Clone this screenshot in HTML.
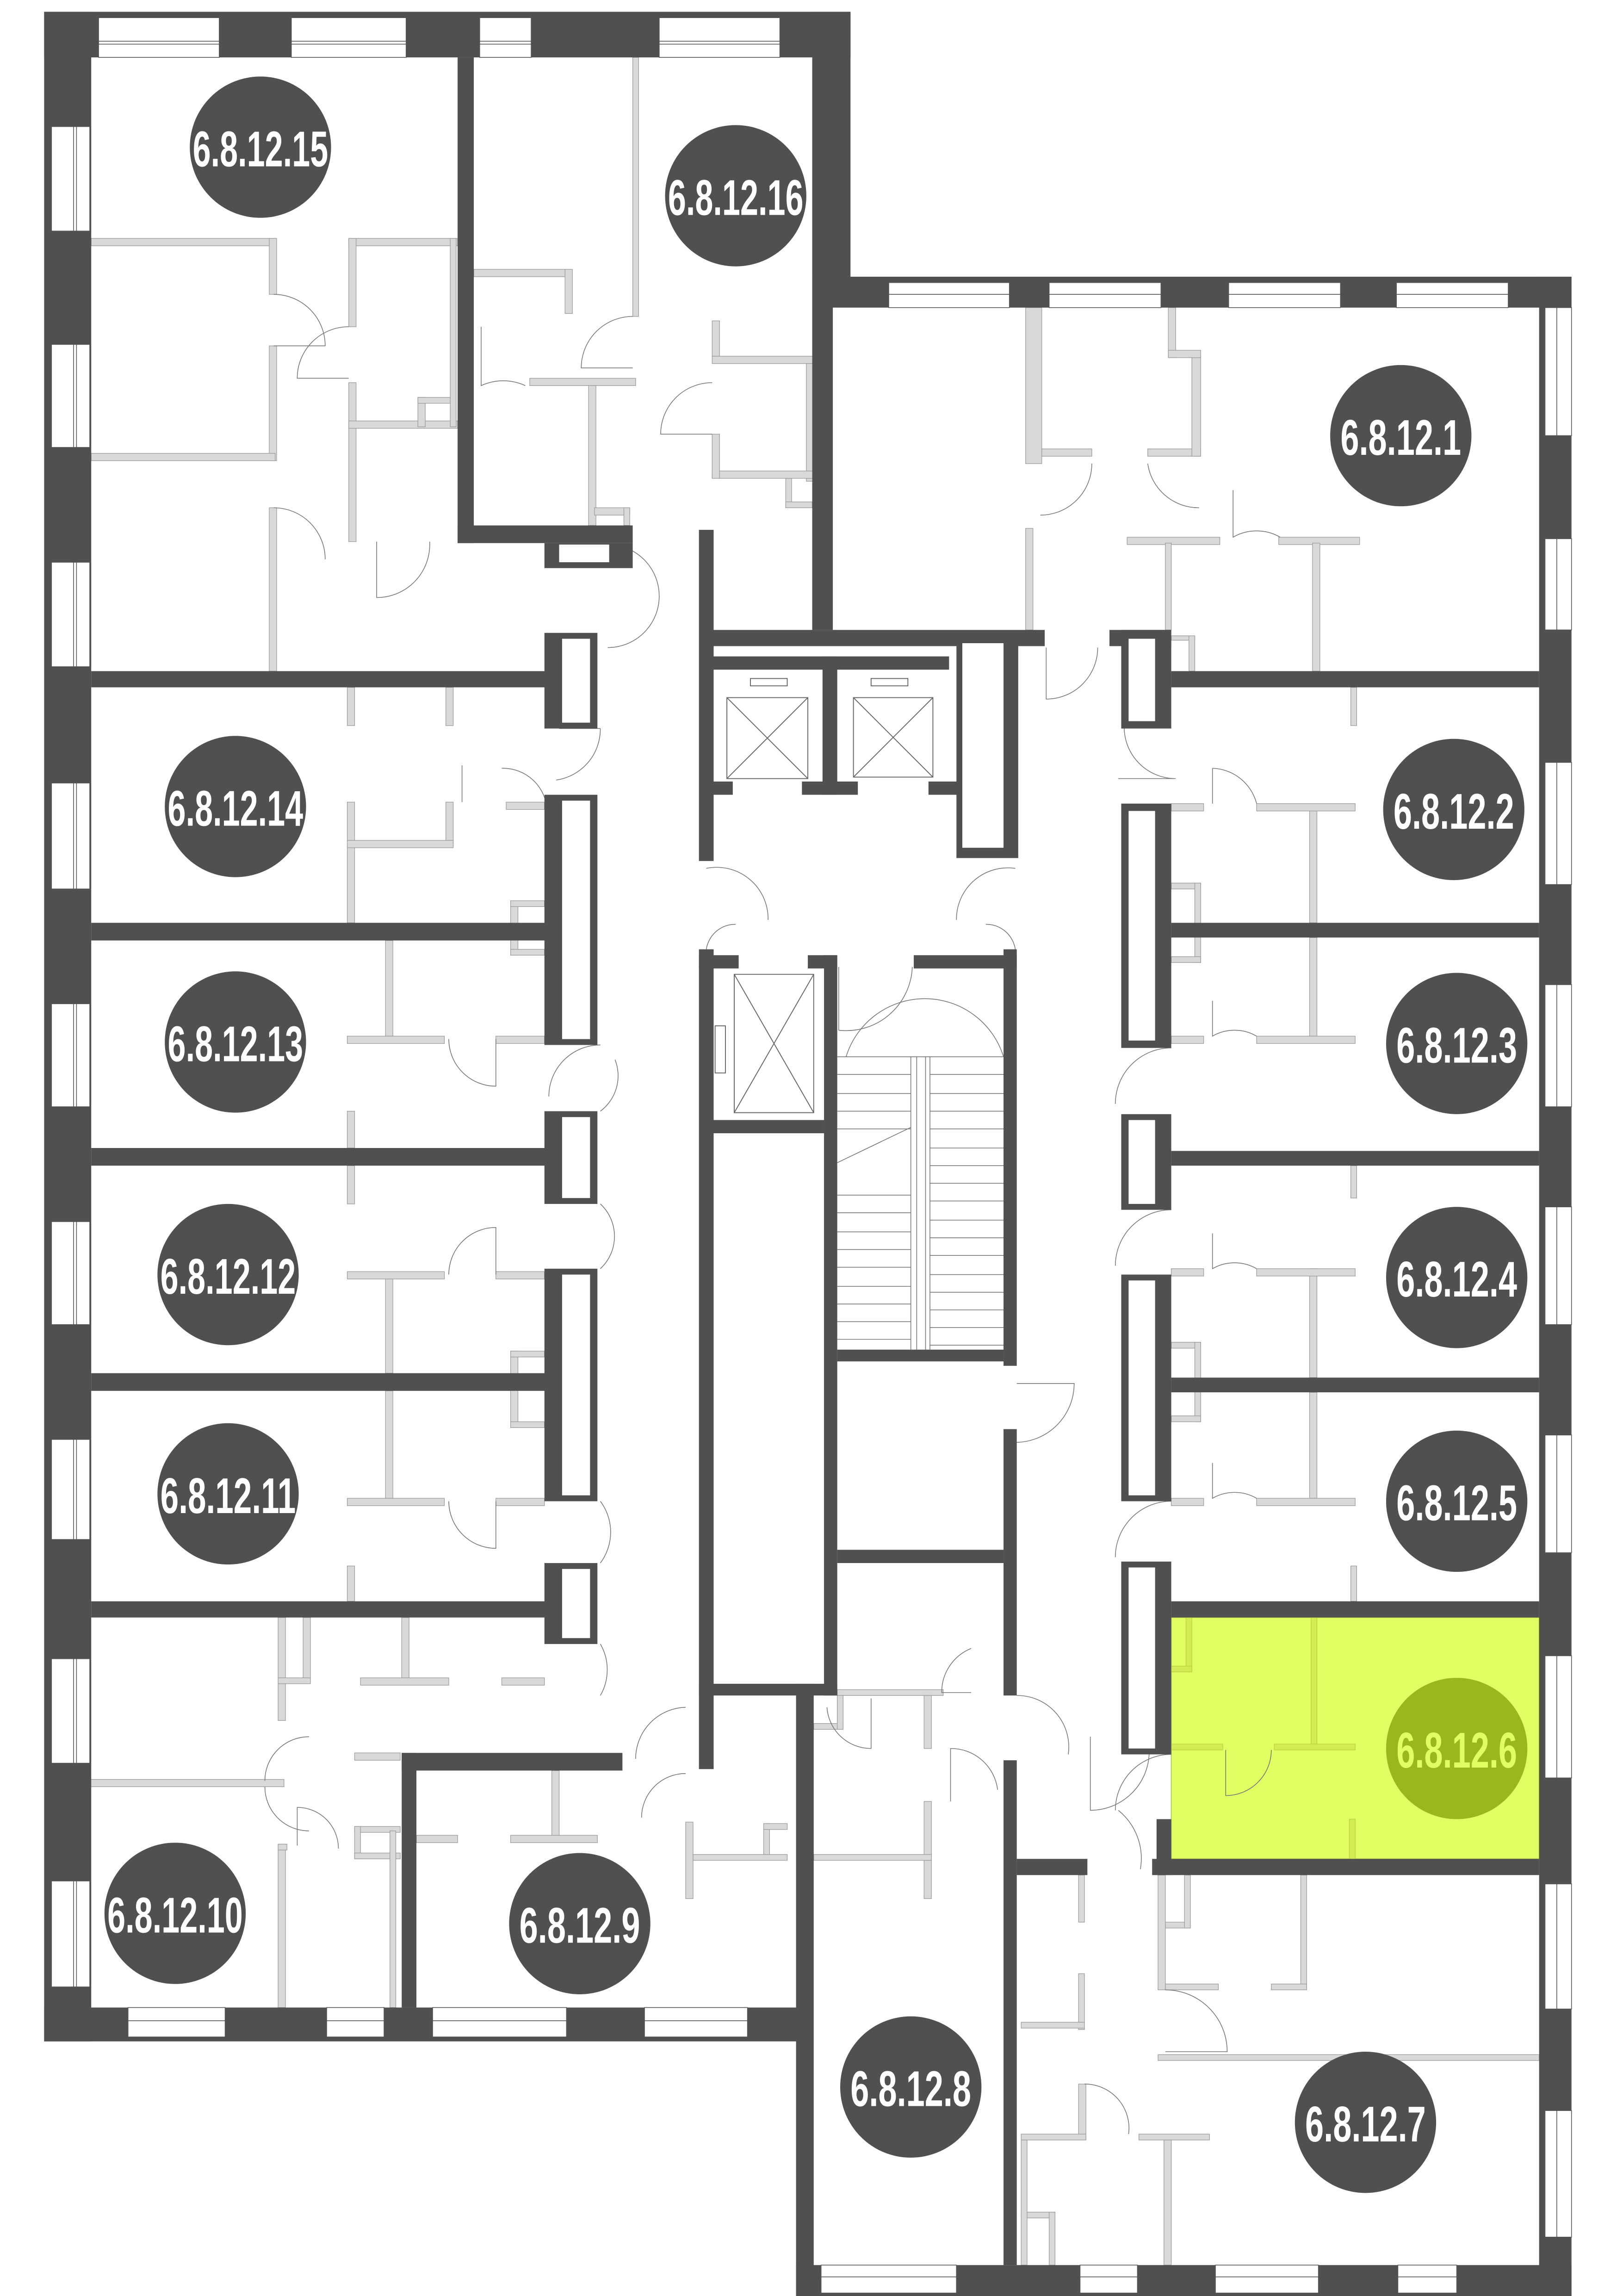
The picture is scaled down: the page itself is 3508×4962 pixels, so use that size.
<!DOCTYPE html>
<html><head><meta charset="utf-8"><style>
html,body{margin:0;padding:0;background:#fff;}
svg{display:block;}
.w{fill:#505050;}
.l{fill:#d9d9d9;stroke:#9a9a9a;stroke-width:0.4;}
.g{fill:#d2ec55;stroke:#b8d040;stroke-width:0.4;}
.win{fill:#fff;stroke:#555;stroke-width:0.5;}
.d{fill:none;stroke:#777;stroke-width:0.5;}
.t{font-family:"Liberation Sans Narrow","Liberation Sans",sans-serif;font-size:34px;font-weight:bold;fill:#fff;}
</style></head><body>
<svg width="3508" height="4962" viewBox="0 0 1103 1560" preserveAspectRatio="none" xmlns="http://www.w3.org/2000/svg">
<rect width="1103" height="1560" fill="#fff"/>
<rect x="796" y="1099" width="250" height="164" fill="#e1ff62" stroke="#b8d040" stroke-width="0.6"/>
<g class="l">
<rect x="62" y="162" width="125" height="5"/><rect x="183" y="162" width="5" height="38"/><rect x="183" y="235" width="5" height="78"/>
<rect x="62" y="308" width="125" height="5"/><rect x="183" y="345" width="5" height="111"/>
<rect x="237" y="162" width="74" height="5"/><rect x="237" y="162" width="5" height="60"/><rect x="237" y="260" width="5" height="108"/>
<rect x="237" y="286" width="74" height="5"/><rect x="284" y="270" width="5" height="20"/><rect x="284" y="270" width="24" height="4"/><rect x="306" y="162" width="4" height="128"/>
<rect x="322" y="183" width="66" height="5"/><rect x="384" y="183" width="5" height="30"/><rect x="430" y="39" width="4" height="176"/>
<rect x="360" y="257" width="72" height="5"/><rect x="400" y="262" width="5" height="95"/><rect x="404" y="345" width="24" height="5"/><rect x="424" y="345" width="4" height="12"/>
<rect x="484" y="218" width="5" height="24"/><rect x="484" y="242" width="70" height="5"/><rect x="548" y="247" width="5" height="80"/><rect x="484" y="320" width="70" height="5"/><rect x="484" y="295" width="5" height="30"/>
<rect x="534" y="325" width="4" height="20"/><rect x="534" y="341" width="18" height="4"/>
<rect x="480" y="365" width="4" height="45"/>
<rect x="236" y="467" width="5" height="26"/><rect x="303" y="467" width="5" height="26"/>
<rect x="236" y="545" width="5" height="82"/><rect x="303" y="545" width="5" height="30"/><rect x="236" y="571" width="72" height="5"/>
<rect x="344" y="545" width="26" height="5"/><rect x="347" y="612" width="5" height="37"/><rect x="347" y="612" width="23" height="4"/><rect x="347" y="645" width="23" height="4"/>
<rect x="262" y="639" width="5" height="65"/><rect x="236" y="704" width="66" height="5"/><rect x="337" y="704" width="33" height="5"/>
<rect x="236" y="755" width="5" height="25"/><rect x="236" y="792" width="5" height="26"/>
<rect x="236" y="864" width="66" height="5"/><rect x="337" y="864" width="33" height="5"/><rect x="262" y="869" width="5" height="64"/>
<rect x="347" y="918" width="5" height="52"/><rect x="347" y="918" width="23" height="4"/><rect x="347" y="966" width="23" height="4"/>
<rect x="262" y="945" width="5" height="73"/><rect x="236" y="1018" width="66" height="5"/><rect x="337" y="1018" width="33" height="5"/>
<rect x="236" y="1064" width="5" height="24"/>
<rect x="189" y="1099" width="5" height="70"/><rect x="206" y="1099" width="5" height="42"/><rect x="189" y="1140" width="22" height="4"/>
<rect x="273" y="1099" width="5" height="41"/><rect x="245" y="1140" width="60" height="5"/><rect x="341" y="1140" width="29" height="5"/>
<rect x="61" y="1209" width="132" height="5"/><rect x="189" y="1253" width="5" height="111"/><rect x="189" y="1253" width="6" height="4"/>
<rect x="241" y="1191" width="31" height="5"/><rect x="241" y="1241" width="31" height="4"/><rect x="241" y="1241" width="4" height="22"/><rect x="241" y="1259" width="31" height="4"/><rect x="265" y="1244" width="4" height="120"/>
<rect x="283" y="1247" width="28" height="5"/><rect x="347" y="1247" width="59" height="5"/><rect x="375" y="1203" width="5" height="44"/>
<rect x="466" y="1238" width="5" height="52"/><rect x="471" y="1260" width="64" height="4"/><rect x="519" y="1239" width="4" height="21"/><rect x="519" y="1239" width="16" height="4"/>
<rect x="569" y="1148" width="72" height="4"/><rect x="628" y="1152" width="5" height="36"/><rect x="628" y="1224" width="5" height="66"/><rect x="553" y="1260" width="80" height="4"/>
<rect x="553" y="1171" width="20" height="4"/><rect x="569" y="1152" width="4" height="23"/>
<rect x="733" y="1274" width="4" height="32"/><rect x="733" y="1341" width="4" height="38"/><rect x="694" y="1374" width="43" height="4"/>
<rect x="733" y="1416" width="5" height="38"/><rect x="694" y="1450" width="44" height="4"/><rect x="774" y="1450" width="48" height="4"/><rect x="791" y="1454" width="5" height="85"/>
<rect x="694" y="1503" width="23" height="4"/><rect x="713" y="1503" width="4" height="36"/><rect x="694" y="1454" width="4" height="85"/>
<rect x="787" y="1274" width="5" height="78"/><rect x="792" y="1348" width="36" height="4"/><rect x="792" y="1306" width="17" height="4"/><rect x="805" y="1274" width="4" height="36"/>
<rect x="884" y="1274" width="4" height="78"/><rect x="864" y="1348" width="24" height="4"/><rect x="787" y="1396" width="259" height="4"/>
<rect x="697" y="209" width="11" height="106"/><rect x="697" y="359" width="5" height="69"/><rect x="708" y="305" width="34" height="5"/><rect x="780" y="305" width="36" height="5"/><rect x="810" y="241" width="6" height="69"/>
<rect x="794" y="209" width="5" height="34"/><rect x="794" y="238" width="22" height="5"/>
<rect x="766" y="365" width="63" height="5"/><rect x="869" y="365" width="55" height="5"/><rect x="792" y="369" width="4" height="59"/><rect x="892" y="369" width="5" height="87"/>
<rect x="796" y="432" width="16" height="3"/><rect x="808" y="432" width="4" height="24"/>
<rect x="918" y="467" width="4" height="26"/>
<rect x="796" y="546" width="22" height="5"/><rect x="854" y="546" width="67" height="5"/><rect x="890" y="551" width="5" height="76"/>
<rect x="796" y="600" width="20" height="4"/><rect x="812" y="600" width="4" height="54"/><rect x="796" y="650" width="20" height="4"/>
<rect x="890" y="637" width="5" height="67"/><rect x="796" y="704" width="22" height="5"/><rect x="854" y="704" width="67" height="5"/>
<rect x="918" y="792" width="4" height="22"/><rect x="890" y="862" width="5" height="74"/><rect x="796" y="862" width="22" height="5"/><rect x="854" y="862" width="67" height="5"/>
<rect x="796" y="912" width="20" height="4"/><rect x="812" y="912" width="4" height="54"/><rect x="796" y="962" width="20" height="4"/>
<rect x="890" y="946" width="5" height="72"/><rect x="796" y="1018" width="22" height="5"/><rect x="854" y="1018" width="67" height="5"/>
<rect x="918" y="1064" width="4" height="24"/>
</g>
<g class="g">
<rect x="891" y="1099" width="4" height="86"/><rect x="796" y="1185" width="35" height="4"/><rect x="866" y="1185" width="55" height="4"/>
<rect x="917" y="1236" width="4" height="27"/><rect x="806" y="1099" width="4" height="36"/><rect x="796" y="1132" width="14" height="4"/>
</g>
<g class="d">
<path d="M833 1189 V1220 A31 31 0 0 0 864 1189"/>
<path d="M186 200 A35 35 0 0 1 221 235 H186"/>
<path d="M237 222 A35 35 0 0 0 202 257 H237"/>
<path d="M186 345 A35 35 0 0 1 221 380"/>
<path d="M256 368 V406 A36 36 0 0 0 292 368"/>
<path d="M327 222 V262 A36 36 0 0 1 357 262"/>
<path d="M430 215 A35 35 0 0 0 395 250 H430"/>
<path d="M484 260 A35 35 0 0 0 449 295 H484"/>
<path d="M413 370 A35 35 0 0 1 413 440"/>
<path d="M711 440 V475 A35 35 0 0 0 746 440"/>
<path d="M742 315 A35 35 0 0 1 707 350"/>
<path d="M780 315 A35 35 0 0 0 815 345"/>
<path d="M838 333 V365 A32 32 0 0 1 870 365"/>
<path d="M408 495 H380 M408 495 A35 35 0 0 1 378 530"/>
<path d="M341 522 A30 30 0 0 1 371 545 M314 520 V545"/>
<path d="M408 710 A35 35 0 0 0 373 745 M418 720 A30 30 0 0 1 408 755"/>
<path d="M305 706 A32 32 0 0 0 337 738 V706"/>
<path d="M408 818 A30 30 0 0 1 408 862"/>
<path d="M305 866 A32 32 0 0 1 337 834 V866"/>
<path d="M408 1020 A35 35 0 0 1 408 1062"/>
<path d="M305 1020 A32 32 0 0 0 337 1052 V1020"/>
<path d="M408 1117 A35 35 0 0 1 408 1152"/>
<path d="M210 1180 A30 30 0 0 0 180 1210 M180 1214 A30 30 0 0 0 210 1244"/>
<path d="M202 1254 V1228 A28 28 0 0 1 230 1256"/>
<path d="M466 1160 A35 35 0 0 0 432 1195"/>
<path d="M466 1205 A30 30 0 0 0 436 1235"/>
<path d="M480 590 A35 35 0 0 1 522 625 M480 645 A20 20 0 0 1 500 628"/>
<path d="M690 590 A35 35 0 0 0 650 625 M690 645 A20 20 0 0 0 670 628"/>
<path d="M764 494 A35 35 0 0 0 799 529 H760"/>
<path d="M824 522 V546 M824 522 A32 32 0 0 1 854 546"/>
<path d="M796 712 A38 38 0 0 0 758 750"/>
<path d="M796 822 A38 38 0 0 0 758 860"/>
<path d="M796 1020 A38 38 0 0 0 758 1058"/>
<path d="M824 680 V704 A30 30 0 0 1 854 704"/>
<path d="M824 838 V862 A30 30 0 0 1 854 862"/>
<path d="M824 994 V1018 A30 30 0 0 1 854 1018"/>
<path d="M796 1192 A38 38 0 0 0 758 1230"/>
<path d="M760 1230 A42 42 0 0 1 775 1270"/>
<path d="M691 940 H730 A40 40 0 0 1 691 980"/>
<path d="M691 1152 A35 35 0 0 1 726 1192"/>
<path d="M660 1120 A32 32 0 0 0 640 1150 H660"/>
<path d="M592 1154 V1188 A30 30 0 0 1 562 1160"/>
<path d="M646 1224 V1188 A32 32 0 0 1 678 1216"/>
<path d="M741 1180 V1230 A40 40 0 0 0 781 1190"/>
<path d="M792 1352 A42 42 0 0 1 834 1394 H792"/>
<path d="M737 1416 A30 30 0 0 1 767 1450"/>
<path d="M575 718 A56 56 0 0 1 682 718"/>
<path d="M570 700 V657 M570 700 A45 45 0 0 0 620 657"/>
</g>
<g class="w">
<rect x="30" y="8" width="32" height="1379"/>
<rect x="30" y="8" width="548" height="31"/>
<rect x="552" y="8" width="26" height="180"/>
<rect x="552" y="188" width="14" height="240"/>
<rect x="552" y="188" width="516" height="21"/>
<rect x="1046" y="188" width="22" height="1373"/>
<rect x="30" y="1364" width="515" height="23"/>
<rect x="541" y="1144" width="12" height="417"/>
<rect x="475" y="1144" width="94" height="8"/>
<rect x="541" y="1539" width="527" height="22"/>
<rect x="311" y="39" width="11" height="330"/>
<rect x="311" y="357" width="119" height="12"/>
<rect x="370" y="369" width="60" height="17"/>
<rect x="62" y="456" width="317" height="11"/>
<rect x="62" y="627" width="317" height="12"/>
<rect x="62" y="780" width="317" height="12"/>
<rect x="62" y="933" width="317" height="12"/>
<rect x="62" y="1088" width="317" height="11"/>
<rect x="273" y="1191" width="150" height="12"/>
<rect x="273" y="1191" width="10" height="173"/>
<rect x="370" y="430" width="36" height="65"/>
<rect x="370" y="540" width="36" height="170"/>
<rect x="370" y="755" width="36" height="63"/>
<rect x="370" y="862" width="36" height="158"/>
<rect x="370" y="1062" width="36" height="55"/>
<rect x="754" y="428" width="42" height="11"/>
<rect x="762" y="428" width="34" height="67"/>
<rect x="762" y="546" width="34" height="166"/>
<rect x="762" y="757" width="34" height="65"/>
<rect x="762" y="866" width="34" height="154"/>
<rect x="762" y="1061" width="34" height="131"/>
<rect x="786" y="1236" width="10" height="38"/>
<rect x="796" y="456" width="250" height="11"/>
<rect x="796" y="627" width="250" height="10"/>
<rect x="796" y="782" width="250" height="10"/>
<rect x="796" y="936" width="250" height="10"/>
<rect x="796" y="1088" width="250" height="11"/>
<rect x="783" y="1263" width="263" height="11"/>
<rect x="691" y="1263" width="48" height="11"/>
<rect x="475" y="360" width="10" height="225"/>
<rect x="484" y="428" width="226" height="11"/>
<rect x="484" y="446" width="161" height="9"/>
<rect x="559" y="446" width="10" height="94"/>
<rect x="484" y="531" width="14" height="9"/>
<rect x="545" y="531" width="38" height="9"/>
<rect x="631" y="531" width="23" height="9"/>
<rect x="650" y="437" width="42" height="146"/>
<rect x="475" y="645" width="10" height="557"/>
<rect x="475" y="649" width="27" height="9"/>
<rect x="549" y="649" width="20" height="9"/>
<rect x="621" y="649" width="70" height="9"/>
<rect x="682" y="645" width="9" height="283"/>
<rect x="560" y="649" width="9" height="503"/>
<rect x="483" y="761" width="77" height="9"/>
<rect x="569" y="917" width="113" height="8"/>
<rect x="682" y="971" width="9" height="181"/>
<rect x="569" y="1053" width="113" height="9"/>
<rect x="682" y="1196" width="9" height="343"/>
</g>
<g fill="#fff">
<rect x="380" y="370" width="34" height="12"/>
<rect x="382" y="434" width="19" height="57"/>
<rect x="382" y="544" width="19" height="162"/>
<rect x="382" y="759" width="19" height="55"/>
<rect x="382" y="866" width="19" height="150"/>
<rect x="382" y="1066" width="19" height="47"/>
<rect x="767" y="434" width="18" height="56"/>
<rect x="767" y="551" width="18" height="156"/>
<rect x="767" y="761" width="18" height="57"/>
<rect x="767" y="870" width="18" height="146"/>
<rect x="767" y="1065" width="18" height="123"/>
<rect x="654" y="437" width="28" height="139"/>
<rect x="485" y="770" width="75" height="374"/>
</g>
<g fill="none" stroke="#666" stroke-width="0.6">
<rect x="494" y="474" width="55" height="55"/><path d="M494 474 L549 529 M549 474 L494 529"/>
<rect x="580" y="474" width="54" height="54"/><path d="M580 474 L634 528 M634 474 L580 528"/>
<rect x="499" y="662" width="54" height="94"/><path d="M499 662 L553 756 M553 662 L499 756"/>
<rect x="510" y="461" width="25" height="5"/><rect x="592" y="461" width="25" height="5"/><rect x="486" y="697" width="7" height="32"/>
</g>
<g stroke="#777" stroke-width="0.5" fill="none">
<path d="M569 718 H682 M569 730 H619 M632 730 H682 M569 743 H619 M632 743 H682 M569 755 H619 M632 755 H682 M569 767 H619 M632 767 H682 M632 780 H682 M632 792 H682 M632 804 H682 M632 816 H682 M632 829 H682 M632 841 H682 M632 853 H682 M632 866 H682 M632 878 H682 M632 890 H682 M632 902 H682 M632 914 H682"/>
<path d="M569 812 H619 M569 824 H619 M569 837 H619 M569 849 H619 M569 861 H619 M569 874 H619 M569 886 H619 M569 898 H619 M569 910 H619"/>
<path d="M619 718 V917 M623 718 V917 M629 718 V917 M632 718 V917 M569 790 L619 766"/>
</g>
<g class="win">
<rect x="35" y="86" width="26" height="71"/><rect x="35" y="234" width="26" height="70"/><rect x="35" y="382" width="26" height="71"/>
<rect x="35" y="532" width="26" height="72"/><rect x="35" y="682" width="26" height="70"/><rect x="35" y="830" width="26" height="70"/>
<rect x="35" y="978" width="26" height="68"/><rect x="35" y="1127" width="26" height="71"/><rect x="35" y="1278" width="26" height="72"/>
<rect x="67" y="12" width="82" height="27"/><rect x="198" y="12" width="78" height="27"/><rect x="326" y="12" width="35" height="27"/><rect x="448" y="12" width="82" height="27"/>
<rect x="604" y="192" width="82" height="17"/><rect x="713" y="192" width="76" height="17"/><rect x="835" y="192" width="76" height="17"/><rect x="949" y="192" width="76" height="17"/>
<rect x="1050" y="209" width="18" height="87"/><rect x="1050" y="366" width="18" height="62"/><rect x="1050" y="518" width="18" height="83"/>
<rect x="1050" y="669" width="18" height="83"/><rect x="1050" y="820" width="18" height="80"/><rect x="1050" y="975" width="18" height="80"/>
<rect x="1050" y="1125" width="18" height="83"/><rect x="1050" y="1280" width="18" height="85"/><rect x="1050" y="1434" width="18" height="86"/>
<rect x="87" y="1364" width="66" height="20"/><rect x="222" y="1364" width="39" height="20"/><rect x="294" y="1364" width="91" height="20"/><rect x="438" y="1364" width="70" height="20"/>
<rect x="558" y="1539" width="92" height="19"/><rect x="734" y="1539" width="39" height="19"/><rect x="826" y="1539" width="70" height="19"/><rect x="950" y="1539" width="40" height="19"/>
</g>
<g stroke="#555" stroke-width="0.5" fill="none">
<path d="M50 86V157M52 86V157M50 234V304M52 234V304M50 382V453M52 382V453M50 532V604M52 532V604M50 682V752M52 682V752M50 830V900M52 830V900M50 978V1046M52 978V1046M50 1127V1198M52 1127V1198M50 1278V1350M52 1278V1350"/>
<path d="M67 28H149M67 30H149M198 28H276M198 30H276M326 28H361M326 30H361M448 28H530M448 30H530"/>
<path d="M604 200H686M713 200H789M835 200H911M949 200H1025"/>
<path d="M1058 209V296M1058 366V428M1058 518V601M1058 669V752M1058 820V900M1058 975V1055M1058 1125V1208M1058 1280V1365M1058 1434V1520"/>
<path d="M87 1373H153M222 1373H261M294 1373H385M438 1373H508M558 1547H650M734 1547H773M826 1547H896M950 1547H990"/>
</g>
<g fill="#505050">
<circle cx="177" cy="100" r="48"/><circle cx="500" cy="133" r="48"/><circle cx="952" cy="296" r="48"/><circle cx="988" cy="550" r="48"/>
<circle cx="990" cy="709" r="48"/><circle cx="990" cy="868" r="48"/><circle cx="990" cy="1020" r="48"/><circle cx="928" cy="1442" r="48"/>
<circle cx="619" cy="1418" r="48"/><circle cx="394" cy="1307" r="48"/><circle cx="119" cy="1300" r="48"/><circle cx="155" cy="1015" r="48"/>
<circle cx="155" cy="866" r="48"/><circle cx="160" cy="708" r="48"/><circle cx="160" cy="548" r="48"/>
</g>
<circle cx="990" cy="1188" r="48" fill="#9bb720"/>
<g class="t" text-anchor="middle">
<text x="177" y="113" textLength="92" lengthAdjust="spacingAndGlyphs">6.8.12.15</text>
<text x="500" y="146" textLength="92" lengthAdjust="spacingAndGlyphs">6.8.12.16</text>
<text x="952" y="309" textLength="82" lengthAdjust="spacingAndGlyphs">6.8.12.1</text>
<text x="988" y="563" textLength="82" lengthAdjust="spacingAndGlyphs">6.8.12.2</text>
<text x="990" y="722" textLength="82" lengthAdjust="spacingAndGlyphs">6.8.12.3</text>
<text x="990" y="881" textLength="82" lengthAdjust="spacingAndGlyphs">6.8.12.4</text>
<text x="990" y="1033" textLength="82" lengthAdjust="spacingAndGlyphs">6.8.12.5</text>
<text x="990" y="1201" textLength="82" lengthAdjust="spacingAndGlyphs" style="fill:#e1ff62">6.8.12.6</text>
<text x="928" y="1455" textLength="82" lengthAdjust="spacingAndGlyphs">6.8.12.7</text>
<text x="619" y="1431" textLength="82" lengthAdjust="spacingAndGlyphs">6.8.12.8</text>
<text x="394" y="1320" textLength="82" lengthAdjust="spacingAndGlyphs">6.8.12.9</text>
<text x="119" y="1313" textLength="92" lengthAdjust="spacingAndGlyphs">6.8.12.10</text>
<text x="155" y="1028" textLength="92" lengthAdjust="spacingAndGlyphs">6.8.12.11</text>
<text x="155" y="879" textLength="92" lengthAdjust="spacingAndGlyphs">6.8.12.12</text>
<text x="160" y="721" textLength="92" lengthAdjust="spacingAndGlyphs">6.8.12.13</text>
<text x="160" y="561" textLength="92" lengthAdjust="spacingAndGlyphs">6.8.12.14</text>
</g>
</svg>
</body></html>
